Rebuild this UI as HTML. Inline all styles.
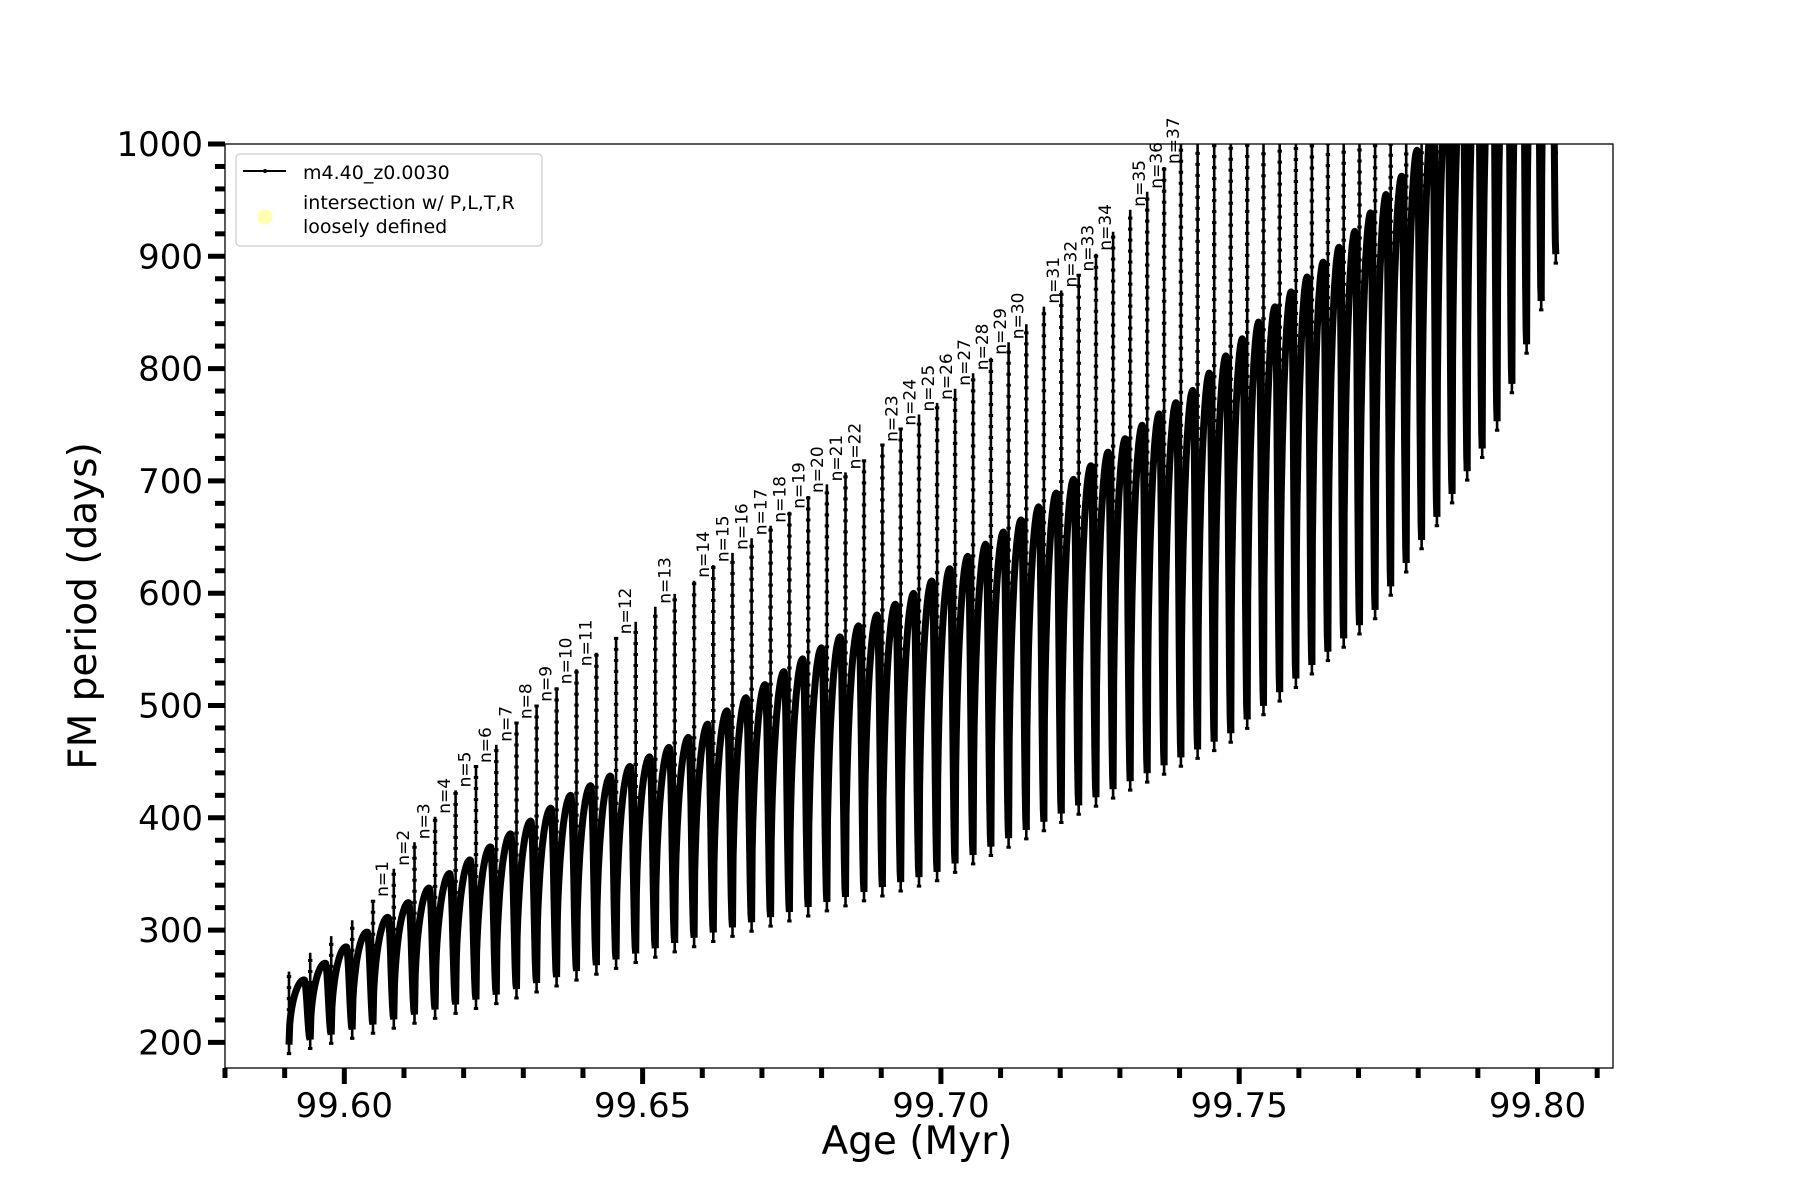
<!DOCTYPE html>
<html><head><meta charset="utf-8"><style>
html,body{margin:0;padding:0;background:#fff;width:1800px;height:1200px;overflow:hidden}
text{font-family:"DejaVu Sans","Liberation Sans",sans-serif;fill:#000}
</style></head><body>
<svg id="s" width="1800" height="1200" xmlns="http://www.w3.org/2000/svg">
<defs><clipPath id="c"><rect x="225" y="144" width="1388" height="924"/></clipPath></defs>
<g id="data" clip-path="url(#c)"></g>
<g id="lab"></g>
<rect x="225" y="144" width="1388" height="924" fill="none" stroke="#000" stroke-width="1.3"/>
<g id="ax"></g>
<text x="917" y="1154" font-size="39" text-anchor="middle">Age (Myr)</text>
<text transform="translate(96,606) rotate(-90)" font-size="39" text-anchor="middle">FM period (days)</text>
<rect x="236" y="154" width="306" height="92" rx="4" fill="#fff" fill-opacity="0.8" stroke="#ccc" stroke-width="1.2"/>
<line x1="243" y1="171" x2="286" y2="171" stroke="#000" stroke-width="2"/>
<circle cx="265" cy="171" r="2" fill="#000"/>
<text x="303" y="179" font-size="19">m4.40_z0.0030</text>
<circle cx="265" cy="217" r="7.5" fill="#ffffb0"/>
<text x="303" y="209" font-size="19">intersection w/ P,L,T,R</text>
<text x="303" y="233" font-size="19">loosely defined</text>
</svg>
<script>
(function(){
function Y(v){return 144+(1000-v)*1.123;}
function X(t){return 225+(t-99.58)*5966;}
function interp(p,x){if(x<=p[0][0])return p[0][1]+(x-p[0][0])*(p[1][1]-p[0][1])/(p[1][0]-p[0][0]);
for(var i=1;i<p.length;i++){if(x<=p[i][0]){var a=p[i-1],b=p[i];return a[1]+(x-a[0])*(b[1]-a[1])/(b[0]-a[0]);}}
var a=p[p.length-2],b=p[p.length-1];return b[1]+(x-b[0])*(b[1]-a[1])/(b[0]-a[0]);}
var low=[[289,190],[503,236],[639,272],[935,343],[1229,466],[1372,573],[1486,726],[1497,745],[1510,774],[1524,807],[1538,843],[1553,886]];
var peak=[[280,235],[299,252],[343,283],[457,355],[571,420],[686,470],[800,540],[914,600],[1029,670],[1143,750],[1190,778],[1257,840],[1350,917],[1410,980],[1440,1040],[1600,1300]];
var labs=[[322,320],[341,350],[360,375],[380,400],[399,425],[418,448],[437,468],[456,490],[475,505],[494,523],[513,540],[532,555],[569,585],[606,610],[624,625],[641,636],[659,650],[677,662],[694,675],[711,690],[729,700],[746,712],[764,725],[781,740],[797,755],[814,765],[831,778],[848,793],[865,808],[881,822],[913,855],[929,870],[945,885],[961,905],[990,943],[1006,960],[1022,985]];
var sp=labs.map(function(l){return [l[0]*1.143,l[1]];});
sp.push([1300,1200]);
var N=71,xs=[];
for(var i=0;i<=N;i++)xs.push(289+21.2*i-0.0473*i*i);
var g=document.getElementById('data'),h="";
for(var i=0;i<=N;i++){
 var x=xs[i],lo=interp(low,x),tp;
 if(x<360)tp=interp(peak,x)+20;else tp=interp(sp,x);
 h+='<line x1="'+x.toFixed(1)+'" y1="'+Y(lo).toFixed(1)+'" x2="'+x.toFixed(1)+'" y2="'+Y(tp).toFixed(1)+'" stroke="#000" stroke-width="2.6"/>';
 var d="";for(var yy=Y(lo);yy>Math.max(Y(tp),130);yy-=11){d+='M'+(x-2.2).toFixed(1)+' '+yy.toFixed(1)+'h4.4';}
 if(d)h+='<path d="'+d+'" stroke="#000" stroke-width="3" fill="none"/>';
 if(i<N){
  var x2=xs[i+1],pts=[];
  var a0=lo+8,pk=interp(peak,x+(x2-x)*0.72),a1=interp(low,x2)+8;
  for(var k=0;k<=30;k++){var u=k/30,xx=x+(x2-x)*u,v;
   if(u<0.72){var w=u/0.72;v=a0+(pk-a0)*Math.pow(Math.sin(w*Math.PI/2),0.45);}
   else{var w=(u-0.72)/0.28;v=pk-(pk-a1)*Math.pow(Math.sin(w*Math.PI/2),2.2);}
   pts.push(xx.toFixed(1)+','+Y(v).toFixed(1));}
  h+='<polyline points="'+pts.join(' ')+'" fill="none" stroke="#000" stroke-width="7" stroke-linejoin="round"/>';
 }
}
g.innerHTML=h;
var lh="";
labs.forEach(function(l,n){var tx=l[0]*1.143,best=xs[0];xs.forEach(function(q){if(Math.abs(q-tx)<Math.abs(best-tx))best=q;});
 var tp=interp(sp,best);
 lh+='<text transform="translate('+(best+15).toFixed(1)+','+(Y(tp)-3).toFixed(1)+') rotate(-90)" font-size="17">n='+(n+1)+'</text>';});
document.getElementById('lab').innerHTML=lh;
var ah="";
for(var v=200;v<=1000;v+=20){var y=Y(v),maj=(v%100==0);
 ah+='<line x1="'+(maj?208:215)+'" y1="'+y+'" x2="225" y2="'+y+'" stroke="#000" stroke-width="5"/>';
 if(maj)ah+='<text x="203" y="'+(y+12)+'" font-size="34" text-anchor="end">'+v+'</text>';}
for(var k=0;k<=23;k++){var t=99.58+k*0.01,x=X(t),maj=(k%5==2);
 if(x>1613)break;
 ah+='<line x1="'+x+'" y1="1068" x2="'+x+'" y2="'+(maj?1084:1078)+'" stroke="#000" stroke-width="5"/>';
 if(maj)ah+='<text x="'+x+'" y="1117" font-size="34" text-anchor="middle">'+t.toFixed(2)+'</text>';}
document.getElementById('ax').innerHTML=ah;
})();
</script>
</body></html>
